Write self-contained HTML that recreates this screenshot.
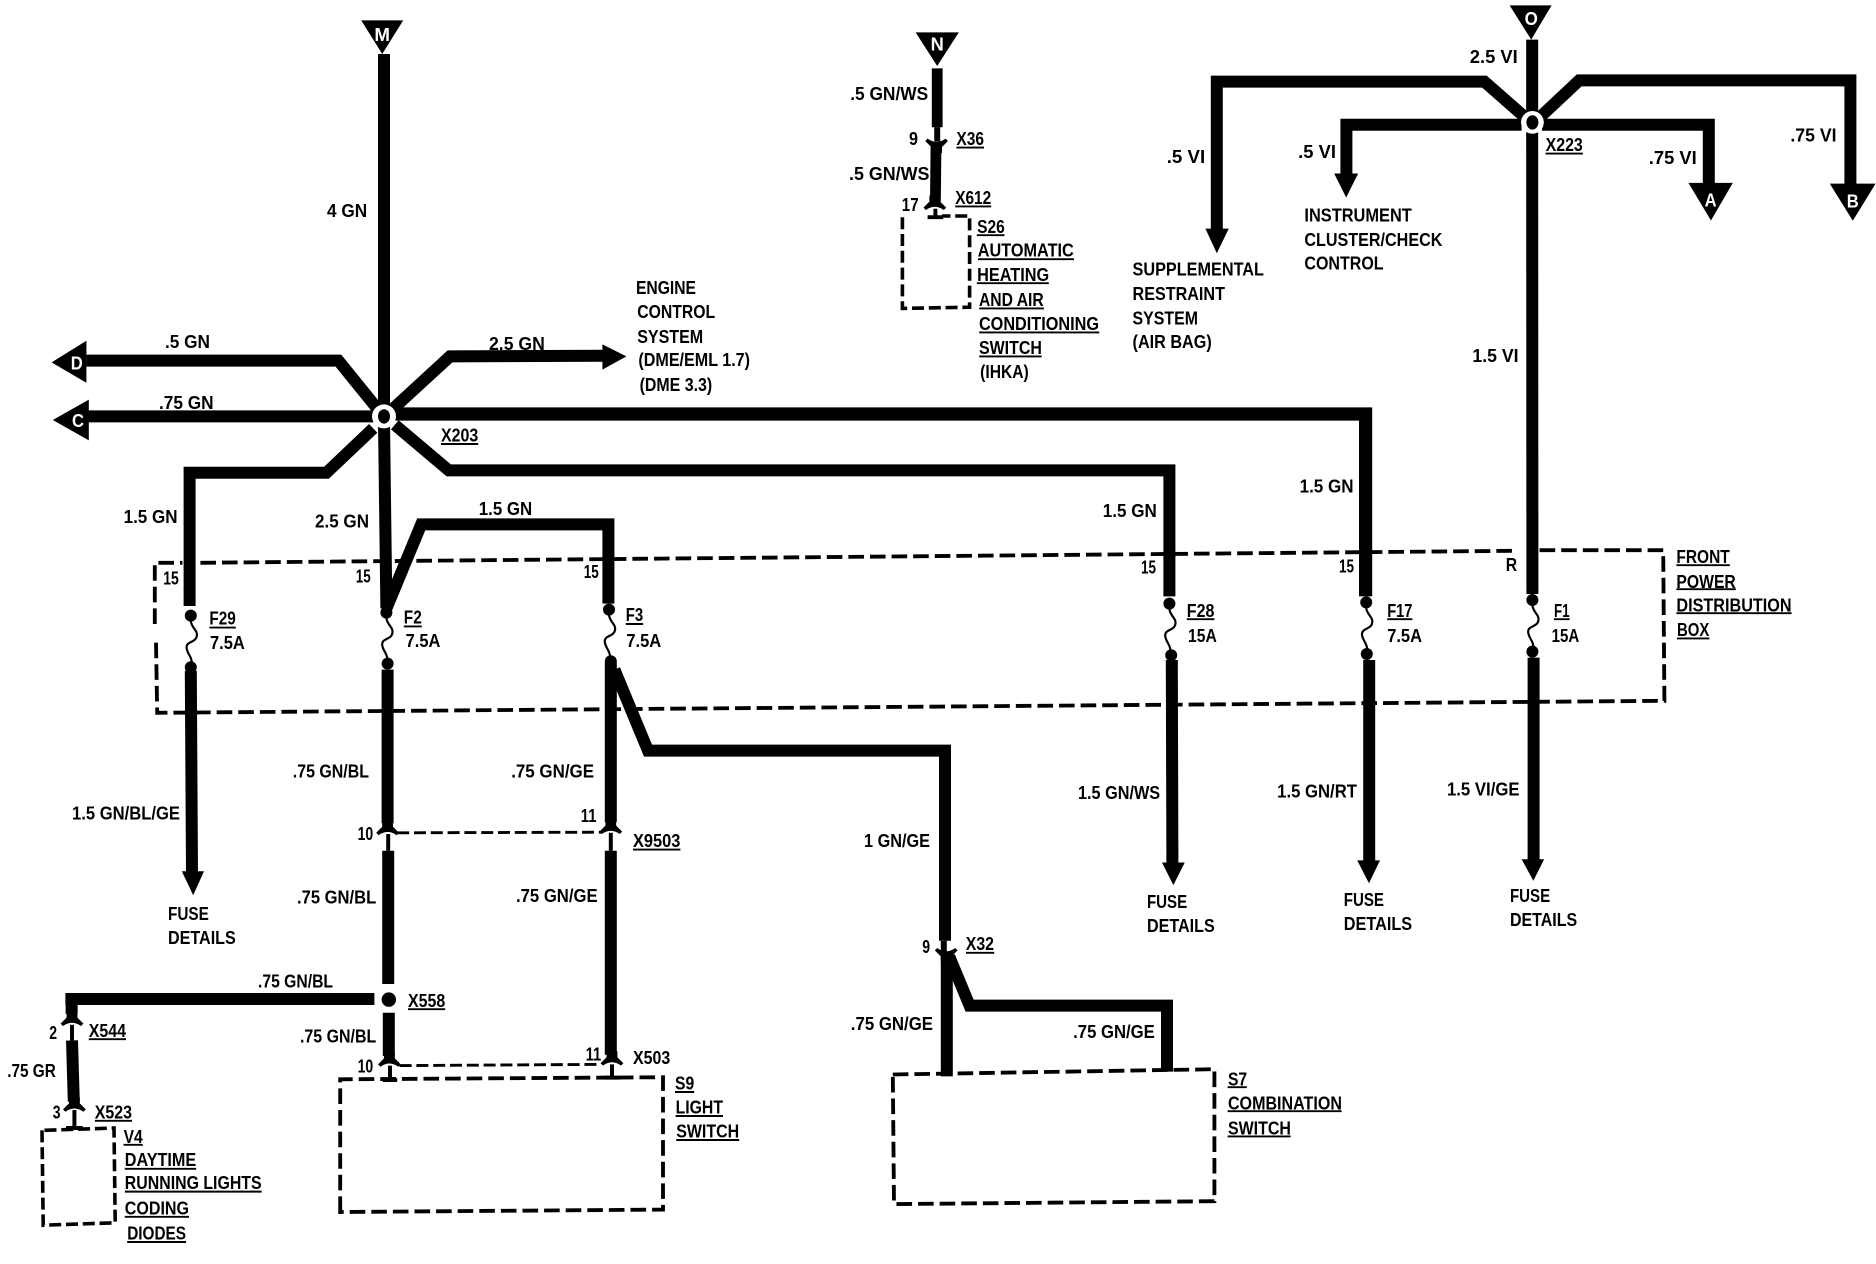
<!DOCTYPE html>
<html>
<head>
<meta charset="utf-8">
<title>Wiring diagram</title>
<style>
html,body{margin:0;padding:0;background:#fff;}
svg{display:block;}
text{font-family:"Liberation Sans",sans-serif;font-weight:bold;font-size:15.5px;fill:#000;}
.w{fill:#fff;font-size:15px;text-anchor:middle;}
</style>
</head>
<body>
<svg xmlns="http://www.w3.org/2000/svg" width="1876" height="1264" viewBox="0 0 1563.33 1053.33">
<rect x="0" y="0" width="1563.33" height="1053.33" fill="#fff"/>
<defs>
<path id="c" d="M-4.5,-8 L4.5,-8 L4.5,-3 L9.5,2 L7.5,4 Q0,-1.5 -7.5,4 L-9.5,2 L-4.5,-3 Z" fill="#000"/>
<g id="f"><circle cx="0" cy="0" r="5" fill="#000"/><path d="M0,4 C0,10 6,12 5,17 C4,23 -4,21 -3.5,27 C-3,32 1,34 1,40" fill="none" stroke="#000" stroke-width="1.8"/></g>
</defs>

<!-- dashed boxes -->
<g fill="none" stroke="#000" stroke-width="3.2" stroke-dasharray="13 5">
<path d="M129,520 L129,469 L152,469"/>
<path d="M167,469 L1262,459"/>
<path d="M1283,458.5 L1386,458.5 L1387,584 L131,594 L130,535"/>
<path d="M283.5,1010 L283.5,899.4 L552.5,897.7 L552.5,1008 Z"/>
<path d="M744,895.4 L1012,891 L1012,1001 L745,1003.4 Z"/>
</g>
<g fill="none" stroke="#000" stroke-width="3" stroke-dasharray="10 4">
<path d="M752,181 L752,257 L808,256 L808,180 L785,180"/>
<path d="M35,942 L36,1021 L96,1019 L95,940 Z"/>
</g>
<g fill="none" stroke="#000" stroke-width="2.4" stroke-dasharray="10 4">
<path d="M331,694 L502,693.5"/>
<path d="M333,888 L500,887"/>
</g>

<!-- thick wires -->
<g fill="none" stroke="#000" stroke-width="10" stroke-linejoin="miter" stroke-linecap="butt">
<path d="M320,45 L320,345"/>
<path d="M72,300.5 L282,300.5 L314,340"/>
<path d="M72,347 L312,347"/>
<path d="M326,342 L375,297 L504,296.5"/>
<path d="M320,345 L1138,345 L1138,497" stroke-width="11"/>
<path d="M329,354 L374,392 L974.5,392 L974.5,497"/>
<path d="M311,357 L272,394 L158,394 L158,505"/>
<path d="M320,352 L322,507"/>
<path d="M322,507 L351,437 L507,437 L507,503"/>
<path d="M159,559 L160,728"/>
<path d="M323,558 L323,686"/>
<path d="M323.5,709 L323.5,820"/>
<path d="M324,844 L324,880"/>
<path d="M509,552 L509,685"/>
<path d="M509,709 L509,879"/>
<path d="M512,558 L540,625.5 L787.5,625.5 L787.5,784"/>
<path d="M789,796 L789,897"/>
<path d="M791,797 L808,838 L972.5,838 L972.5,893"/>
<path d="M976.5,550 L977,720"/>
<path d="M1141,550 L1141,720"/>
<path d="M1278,548 L1278,718"/>
<path d="M1276.8,33 L1276.8,98"/>
<path d="M1276.8,108 L1277,495"/>
<path d="M1270,97 L1237,68 L1014,68 L1014,192"/>
<path d="M1268,104 L1122,104 L1122,146"/>
<path d="M1285,104 L1424,104 L1424,154"/>
<path d="M1284,97 L1316,67 L1542,67 L1542,155"/>
<path d="M781,57 L781,106" stroke-width="9"/>
<path d="M780,122 L779.5,168" stroke-width="9"/>
<path d="M54.5,832.5 L312,832.5 M59.7,828 L59.7,845"/>
<path d="M60,867 L61.5,918"/>
</g>

<!-- thin stems -->
<g stroke="#000" stroke-width="3.3" fill="none">
<path d="M323.5,695 L323.5,709"/>
<path d="M509,694 L509,709"/>
<path d="M325,888 L325,900 M319,900 L331,900"/>
<path d="M510,887 L510,898 M504,898 L516,898"/>
<path d="M60,854 L60,867"/>
<path d="M62,925 L62,940 M55,940 L69,940"/>
<path d="M779.5,174 L779.5,181 M773,181 L786,181"/>
<path d="M781,106 L781,118" stroke-width="5"/>
<path d="M786.5,784 L786.5,793" stroke-width="5"/>
</g>

<!-- connector arches -->
<use href="#c" x="323" y="692"/>
<use href="#c" x="509" y="691"/>
<use href="#c" x="324.5" y="885"/>
<use href="#c" x="510" y="884"/>
<use href="#c" x="60" y="851"/>
<use href="#c" x="62" y="922.5"/>
<use href="#c" x="779" y="171"/>
<use href="#c" transform="translate(780.5,119.5) scale(1,-1)"/>
<use href="#c" transform="translate(788.5,794) scale(1,-1)"/>

<!-- fuses -->
<use href="#f" x="159" y="513"/>
<circle cx="159" cy="556" r="5"/>
<use href="#f" x="322" y="510.5"/>
<circle cx="323" cy="553" r="5"/>
<use href="#f" x="507.5" y="508"/>
<circle cx="509" cy="551" r="5"/>
<use href="#f" x="974.5" y="503"/>
<circle cx="976" cy="546" r="5"/>
<use href="#f" x="1138.5" y="502"/>
<circle cx="1139" cy="545" r="5"/>
<use href="#f" x="1277" y="500"/>
<circle cx="1277" cy="543" r="5"/>
<circle cx="324" cy="833" r="6"/>

<!-- hubs -->
<circle cx="320" cy="347" r="10" fill="#fff"/>
<ellipse cx="320" cy="347" rx="5" ry="6" fill="#000"/>
<circle cx="1277" cy="102" r="9.5" fill="#fff"/>
<ellipse cx="1277" cy="102" rx="5" ry="6" fill="#000"/>

<!-- triangles and arrowheads -->
<g fill="#000">
<polygon points="301,17 336,17 318.5,45"/>
<polygon points="763,27 799,27 781,55"/>
<polygon points="1258,4.5 1293,4.5 1276,33"/>
<polygon points="72,284 72,319 43,302"/>
<polygon points="74,333 74,367 44,350"/>
<polygon points="502,287 502,308 522,297"/>
<polygon points="1407,152.4 1444,152.4 1425.8,183.7"/>
<polygon points="1524.8,153 1563,153 1544,184"/>
<polygon points="1004.5,190.5 1024,190.5 1014,211"/>
<polygon points="1111.8,144.6 1131.8,144.6 1121.8,164.6"/>
<polygon points="151.5,726 170,726 161,746"/>
<polygon points="968.3,718.7 987.3,718.7 977.8,737.6"/>
<polygon points="1131,717 1150,717 1140.8,736"/>
<polygon points="1268,716 1286.8,716 1277.8,734"/>
</g>
<text class="w" x="318.5" y="34" textLength="13" lengthAdjust="spacingAndGlyphs">M</text>
<text class="w" x="781" y="42" textLength="11" lengthAdjust="spacingAndGlyphs">N</text>
<text class="w" x="1276" y="21" textLength="11" lengthAdjust="spacingAndGlyphs">O</text>
<text class="w" x="64" y="308" textLength="10" lengthAdjust="spacingAndGlyphs">D</text>
<text class="w" x="65" y="356" textLength="10" lengthAdjust="spacingAndGlyphs">C</text>
<text class="w" x="1425.5" y="172" textLength="10" lengthAdjust="spacingAndGlyphs">A</text>
<text class="w" x="1544" y="173" textLength="10" lengthAdjust="spacingAndGlyphs">B</text>

<!-- underlines -->
<g stroke="#000" stroke-width="1.6" fill="none">
<path d="M367.5,370 h31 M174.5,523 h22 M336.5,522 h15 M521.5,520 h14.5 M989,516 h23 M1156,516 h21 M1295,516 h13"/>
<path d="M797,123 h23 M796,172 h30 M814,196 h23 M815,216 h80 M814,236 h60 M816,257 h54 M816,277 h100 M816,297 h52"/>
<path d="M1288,128 h31 M1397,471 h44.5 M1397,491 h49.5 M1397,511 h96 M1397.5,532 h27"/>
<path d="M527.5,708 h39.5 M340,841 h31 M74,866 h31 M79,934 h31 M562.5,910 h16 M563,930 h39.5 M563.5,950 h52.5"/>
<path d="M103,954 h16 M104,974 h59.5 M104,993 h114 M104,1014 h53.5 M106,1035 h49"/>
<path d="M805,794 h23.5 M1023,906 h16 M1023,926 h95 M1023,947 h52.5"/>
</g>

<!-- labels -->
<g>
<text x="272.5" y="181" textLength="33.5" lengthAdjust="spacingAndGlyphs">4 GN</text>
<text x="137.5" y="290" textLength="37.5" lengthAdjust="spacingAndGlyphs">.5 GN</text>
<text x="132.5" y="341" textLength="45.5" lengthAdjust="spacingAndGlyphs">.75 GN</text>
<text x="407.5" y="291.5" textLength="46.5" lengthAdjust="spacingAndGlyphs">2.5 GN</text>
<text x="530" y="245" textLength="50" lengthAdjust="spacingAndGlyphs">ENGINE</text>
<text x="531" y="265" textLength="65" lengthAdjust="spacingAndGlyphs">CONTROL</text>
<text x="531" y="286" textLength="55" lengthAdjust="spacingAndGlyphs">SYSTEM</text>
<text x="532" y="305" textLength="93" lengthAdjust="spacingAndGlyphs">(DME/EML 1.7)</text>
<text x="533" y="326" textLength="60.5" lengthAdjust="spacingAndGlyphs">(DME 3.3)</text>
<text x="367.5" y="368" textLength="31" lengthAdjust="spacingAndGlyphs">X203</text>
<text x="103" y="436" textLength="45" lengthAdjust="spacingAndGlyphs">1.5 GN</text>
<text x="262.5" y="439.5" textLength="45" lengthAdjust="spacingAndGlyphs">2.5 GN</text>
<text x="399" y="429" textLength="44.5" lengthAdjust="spacingAndGlyphs">1.5 GN</text>
<text x="136" y="487" textLength="13" lengthAdjust="spacingAndGlyphs">15</text>
<text x="296.5" y="485.5" textLength="12.5" lengthAdjust="spacingAndGlyphs">15</text>
<text x="486.5" y="481.5" textLength="12.5" lengthAdjust="spacingAndGlyphs">15</text>
<text x="174.5" y="520.5" textLength="22" lengthAdjust="spacingAndGlyphs">F29</text>
<text x="175" y="541" textLength="29" lengthAdjust="spacingAndGlyphs">7.5A</text>
<text x="336.5" y="519.5" textLength="15" lengthAdjust="spacingAndGlyphs">F2</text>
<text x="338" y="539" textLength="29" lengthAdjust="spacingAndGlyphs">7.5A</text>
<text x="521.5" y="517.5" textLength="14.5" lengthAdjust="spacingAndGlyphs">F3</text>
<text x="522" y="539" textLength="29" lengthAdjust="spacingAndGlyphs">7.5A</text>
<text x="989" y="514" textLength="23" lengthAdjust="spacingAndGlyphs">F28</text>
<text x="990" y="535" textLength="24" lengthAdjust="spacingAndGlyphs">15A</text>
<text x="1156" y="514" textLength="21" lengthAdjust="spacingAndGlyphs">F17</text>
<text x="1156" y="535" textLength="29" lengthAdjust="spacingAndGlyphs">7.5A</text>
<text x="1295" y="514" textLength="13" lengthAdjust="spacingAndGlyphs">F1</text>
<text x="1293" y="535" textLength="23" lengthAdjust="spacingAndGlyphs">15A</text>

<text x="708.5" y="83.5" textLength="65" lengthAdjust="spacingAndGlyphs">.5 GN/WS</text>
<text x="757.5" y="121" textLength="7.5" lengthAdjust="spacingAndGlyphs">9</text>
<text x="707.5" y="150" textLength="67" lengthAdjust="spacingAndGlyphs">.5 GN/WS</text>
<text x="751.5" y="176" textLength="14" lengthAdjust="spacingAndGlyphs">17</text>
<text x="797" y="120.7" textLength="23" lengthAdjust="spacingAndGlyphs">X36</text>
<text x="796" y="170" textLength="30" lengthAdjust="spacingAndGlyphs">X612</text>
<text x="814.3" y="194" textLength="23" lengthAdjust="spacingAndGlyphs">S26</text>
<text x="814.8" y="213.6" textLength="80" lengthAdjust="spacingAndGlyphs">AUTOMATIC</text>
<text x="814.3" y="234" textLength="60" lengthAdjust="spacingAndGlyphs">HEATING</text>
<text x="815.8" y="255" textLength="54" lengthAdjust="spacingAndGlyphs">AND AIR</text>
<text x="815.8" y="275" textLength="100" lengthAdjust="spacingAndGlyphs">CONDITIONING</text>
<text x="815.8" y="295" textLength="52.5" lengthAdjust="spacingAndGlyphs">SWITCH</text>
<text x="816.8" y="315" textLength="40.5" lengthAdjust="spacingAndGlyphs">(IHKA)</text>

<text x="1224.8" y="52.7" textLength="40" lengthAdjust="spacingAndGlyphs">2.5 VI</text>
<text x="972.3" y="136" textLength="32" lengthAdjust="spacingAndGlyphs">.5 VI</text>
<text x="1081.8" y="131.6" textLength="31.5" lengthAdjust="spacingAndGlyphs">.5 VI</text>
<text x="1374" y="136.7" textLength="40" lengthAdjust="spacingAndGlyphs">.75 VI</text>
<text x="1492" y="118" textLength="38.5" lengthAdjust="spacingAndGlyphs">.75 VI</text>
<text x="1288" y="126" textLength="31" lengthAdjust="spacingAndGlyphs">X223</text>
<text x="943.8" y="229.6" textLength="109.5" lengthAdjust="spacingAndGlyphs">SUPPLEMENTAL</text>
<text x="943.8" y="250" textLength="77" lengthAdjust="spacingAndGlyphs">RESTRAINT</text>
<text x="943.8" y="270.4" textLength="54.5" lengthAdjust="spacingAndGlyphs">SYSTEM</text>
<text x="943.8" y="290" textLength="66" lengthAdjust="spacingAndGlyphs">(AIR BAG)</text>
<text x="1087" y="184.4" textLength="89.5" lengthAdjust="spacingAndGlyphs">INSTRUMENT</text>
<text x="1087" y="204.8" textLength="115" lengthAdjust="spacingAndGlyphs">CLUSTER/CHECK</text>
<text x="1087" y="224.5" textLength="66" lengthAdjust="spacingAndGlyphs">CONTROL</text>
<text x="1227" y="301.7" textLength="38.5" lengthAdjust="spacingAndGlyphs">1.5 VI</text>
<text x="919" y="431" textLength="45" lengthAdjust="spacingAndGlyphs">1.5 GN</text>
<text x="1083" y="410.5" textLength="45" lengthAdjust="spacingAndGlyphs">1.5 GN</text>
<text x="950.8" y="478" textLength="12.5" lengthAdjust="spacingAndGlyphs">15</text>
<text x="1115.8" y="477" textLength="12.5" lengthAdjust="spacingAndGlyphs">15</text>
<text x="1254.8" y="476" textLength="9.5" lengthAdjust="spacingAndGlyphs">R</text>
<text x="1397" y="469" textLength="44.5" lengthAdjust="spacingAndGlyphs">FRONT</text>
<text x="1397" y="489.8" textLength="49.5" lengthAdjust="spacingAndGlyphs">POWER</text>
<text x="1397" y="509.5" textLength="96" lengthAdjust="spacingAndGlyphs">DISTRIBUTION</text>
<text x="1397.5" y="530" textLength="27" lengthAdjust="spacingAndGlyphs">BOX</text>

<text x="60" y="682.8" textLength="90" lengthAdjust="spacingAndGlyphs">1.5 GN/BL/GE</text>
<text x="244" y="648" textLength="63.5" lengthAdjust="spacingAndGlyphs">.75 GN/BL</text>
<text x="426" y="648" textLength="69" lengthAdjust="spacingAndGlyphs">.75 GN/GE</text>
<text x="298" y="700" textLength="13" lengthAdjust="spacingAndGlyphs">10</text>
<text x="484" y="685" textLength="13" lengthAdjust="spacingAndGlyphs">11</text>
<text x="527.5" y="706" textLength="39.5" lengthAdjust="spacingAndGlyphs">X9503</text>
<text x="247.5" y="753" textLength="66" lengthAdjust="spacingAndGlyphs">.75 GN/BL</text>
<text x="430" y="751.5" textLength="68" lengthAdjust="spacingAndGlyphs">.75 GN/GE</text>
<text x="140" y="766.5" textLength="34" lengthAdjust="spacingAndGlyphs">FUSE</text>
<text x="140" y="786.5" textLength="56.5" lengthAdjust="spacingAndGlyphs">DETAILS</text>
<text x="215" y="823" textLength="62.5" lengthAdjust="spacingAndGlyphs">.75 GN/BL</text>
<text x="340" y="839" textLength="31" lengthAdjust="spacingAndGlyphs">X558</text>
<text x="74" y="864" textLength="31" lengthAdjust="spacingAndGlyphs">X544</text>
<text x="41" y="866" textLength="6.5" lengthAdjust="spacingAndGlyphs">2</text>
<text x="6" y="897.7" textLength="40.5" lengthAdjust="spacingAndGlyphs">.75 GR</text>
<text x="250" y="868.8" textLength="63.5" lengthAdjust="spacingAndGlyphs">.75 GN/BL</text>
<text x="298" y="893.7" textLength="13" lengthAdjust="spacingAndGlyphs">10</text>
<text x="488" y="883.8" textLength="13" lengthAdjust="spacingAndGlyphs">11</text>
<text x="527.5" y="886.5" textLength="31" lengthAdjust="spacingAndGlyphs">X503</text>
<text x="44" y="932" textLength="6.5" lengthAdjust="spacingAndGlyphs">3</text>
<text x="79" y="932" textLength="31" lengthAdjust="spacingAndGlyphs">X523</text>
<text x="562.5" y="908" textLength="16" lengthAdjust="spacingAndGlyphs">S9</text>
<text x="563" y="928" textLength="39.5" lengthAdjust="spacingAndGlyphs">LIGHT</text>
<text x="563.5" y="948" textLength="52.5" lengthAdjust="spacingAndGlyphs">SWITCH</text>
<text x="103" y="952.5" textLength="16" lengthAdjust="spacingAndGlyphs">V4</text>
<text x="104" y="971.8" textLength="59.5" lengthAdjust="spacingAndGlyphs">DAYTIME</text>
<text x="104" y="991" textLength="114" lengthAdjust="spacingAndGlyphs">RUNNING LIGHTS</text>
<text x="104" y="1012" textLength="53.5" lengthAdjust="spacingAndGlyphs">CODING</text>
<text x="106" y="1033" textLength="49" lengthAdjust="spacingAndGlyphs">DIODES</text>
<text x="720" y="706" textLength="55" lengthAdjust="spacingAndGlyphs">1 GN/GE</text>
<text x="768.5" y="794" textLength="6.5" lengthAdjust="spacingAndGlyphs">9</text>
<text x="709" y="858.3" textLength="68.5" lengthAdjust="spacingAndGlyphs">.75 GN/GE</text>
<text x="804.8" y="791.8" textLength="23.5" lengthAdjust="spacingAndGlyphs">X32</text>
<text x="894.3" y="864.8" textLength="68" lengthAdjust="spacingAndGlyphs">.75 GN/GE</text>
<text x="1023.3" y="904.4" textLength="16" lengthAdjust="spacingAndGlyphs">S7</text>
<text x="1023.3" y="924.4" textLength="95" lengthAdjust="spacingAndGlyphs">COMBINATION</text>
<text x="1023.3" y="945.3" textLength="52.5" lengthAdjust="spacingAndGlyphs">SWITCH</text>
<text x="898.3" y="666" textLength="68.5" lengthAdjust="spacingAndGlyphs">1.5 GN/WS</text>
<text x="1064.3" y="664.5" textLength="66.5" lengthAdjust="spacingAndGlyphs">1.5 GN/RT</text>
<text x="1205.8" y="663" textLength="60.5" lengthAdjust="spacingAndGlyphs">1.5 VI/GE</text>
<text x="955.8" y="756.5" textLength="33.5" lengthAdjust="spacingAndGlyphs">FUSE</text>
<text x="955.8" y="776.5" textLength="56.5" lengthAdjust="spacingAndGlyphs">DETAILS</text>
<text x="1119.8" y="755" textLength="33.5" lengthAdjust="spacingAndGlyphs">FUSE</text>
<text x="1119.8" y="775" textLength="57" lengthAdjust="spacingAndGlyphs">DETAILS</text>
<text x="1258.3" y="751.5" textLength="33.5" lengthAdjust="spacingAndGlyphs">FUSE</text>
<text x="1258.3" y="771.5" textLength="56" lengthAdjust="spacingAndGlyphs">DETAILS</text>
</g>
</svg>
</body>
</html>
